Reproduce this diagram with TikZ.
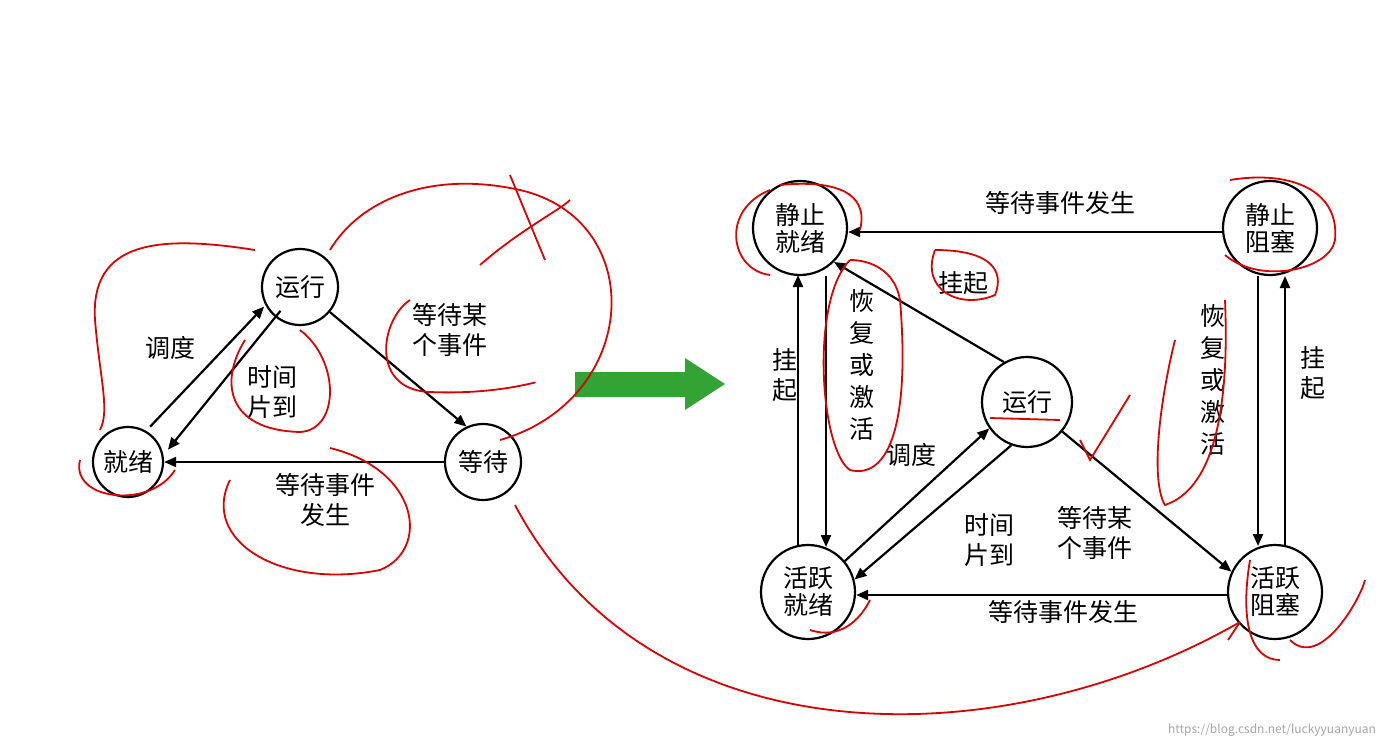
\documentclass[tikz,border=0pt]{standalone}
\usepackage{fontspec}
\setmainfont[BoldFont={Noto Sans CJK SC Bold}]{Noto Sans CJK SC}
\usetikzlibrary{arrows.meta}
\begin{document}
\begin{tikzpicture}[x=1pt,y=-1pt,
  st/.style={circle,draw,line width=2.2pt,minimum size=#1pt,inner sep=0pt,font=\fontsize{25}{27}\selectfont,align=center},
  st/.default=76,
  ar/.style={line width=2.2pt,-{Triangle[length=12pt,width=10pt]}},
  lb/.style={font=\fontsize{25}{30}\selectfont,align=center,inner sep=0pt},
  red/.style={draw=red!85!black,line width=1.8pt}]
\useasboundingbox (0,0) rectangle (1394,746);
\fill[white] (0,0) rectangle (1394,746);
% left
\node[st] (r) at (300,287) {运行};
\node[st=70] (j) at (128,462) {就绪};
\node[st] (d) at (483,462) {等待};
\draw[ar] ([xshift=4pt,yshift=4pt]j.60) -- ([xshift=-2pt]r.210);
\draw[ar] ([yshift=10pt]r.240) -- ([xshift=6pt]j.20);
\draw[ar] (r.-40) -- (d.115);
\draw[ar] (d.180) -- (j.0);
\node[lb] (l1) at (170,348) {调度};
\node[lb] (l2) at (272,392) {时间\\片到};
\node[lb] (l3) at (450,330) {等待某\\个事件};
\node[lb] (l4) at (325,500) {等待事件\\发生};
% green arrow
\fill[green!55!black!80!white] (575,372) -- (685,372) -- (685,358) -- (725,384) -- (685,410) -- (685,397) -- (575,397) -- cycle;
% right
\node[st=94] (sj) at (800,228) {静止\\就绪};
\node[st=94] (sz) at (1270,228) {静止\\阻塞};
\node[st=90] (rr) at (1027,402) {运行};
\node[st=94] (hj) at (808,592) {活跃\\就绪};
\node[st=94] (hz) at (1275,592) {活跃\\阻塞};
\draw[ar] (sz.west|-0,232) -- (sj.east|-0,232);
\draw[ar] (rr.120) -- (sj.-45);
\draw[ar] (798,545) -- (798,275);
\draw[ar] (826,276) -- (826,547);
\draw[ar] (1258,276) -- (1258,546);
\draw[ar] (1285,546) -- (1285,276);
\draw[ar] (hj.40) -- (rr.215);
\draw[ar] (rr.250) -- (hj.15);
\draw[ar] (rr.-40) -- (hz.155);
\draw[ar] (hz.west|-0,595) -- (hj.east|-0,595);
\node[lb] at (1060,203) {等待事件发生};
\node[lb] at (963,283) {挂起};
\node[lb] at (785,375) {挂\\起};
\node[lb,font=\fontsize{25}{32}\selectfont] at (862,365) {恢\\复\\或\\激\\活};
\node[lb,font=\fontsize{25}{32}\selectfont] at (1213,380) {恢\\复\\或\\激\\活};
\node[lb] at (1313,373) {挂\\起};
\node[lb] at (911,455) {调度};
\node[lb] at (989,540) {时间\\片到};
\node[lb] at (1095,533) {等待某\\个事件};
\node[lb] at (1063,612) {等待事件发生};
\node[font=\fontsize{12}{13}\selectfont,text=gray!70] at (1272,730) {https://blog.csdn.net/luckyyuanyuan};
% red annotations
\draw[red] (515,505) .. controls (650,760) and (1000,760) .. (1240,622);
\draw[red] (1240,622) -- (1228,640);
\draw[red] (500,440) .. controls (640,400) and (650,220) .. (520,190) .. controls (430,170) and (360,200) .. (330,250);
\draw[red] (410,300) .. controls (380,320) and (370,390) .. (430,392) .. controls (500,395) and (540,380) .. (535,383);
\draw[red] (230,480) .. controls (200,540) and (280,590) .. (380,570) .. controls (430,550) and (420,470) .. (330,448);
\draw[red] (245,340) .. controls (220,380) and (225,430) .. (300,432) .. controls (340,430) and (340,360) .. (300,330);
\draw[red] (255,250) .. controls (160,235) and (90,240) .. (95,320) .. controls (100,380) and (110,410) .. (100,430);
\draw[red] (80,460) .. controls (70,500) and (150,510) .. (175,470);
\draw[red] (510,175) -- (545,260); \draw[red] (480,265) .. controls (520,230) and (560,210) .. (570,200);
\draw[red] (770,190) .. controls (720,210) and (730,270) .. (770,275);
\draw[red] (780,185) .. controls (830,180) and (870,190) .. (860,230);
\draw[red] (850,260) .. controls (810,300) and (820,450) .. (850,470) .. controls (890,480) and (910,420) .. (900,300) .. controls (895,270) and (870,260) .. (850,260);
\draw[red] (935,250) .. controls (920,290) and (960,310) .. (995,295) .. controls (1005,270) and (990,250) .. (935,250);
\draw[red] (1230,180) .. controls (1290,170) and (1340,190) .. (1335,240) .. controls (1330,270) and (1260,285) .. (1225,255);
\draw[red] (1175,340) .. controls (1160,400) and (1150,480) .. (1165,505) .. controls (1210,490) and (1230,420) .. (1225,300);
\draw[red] (1080,440) -- (1090,460) -- (1130,395);
\draw[red] (1290,640) .. controls (1320,670) and (1360,600) .. (1365,580);
\draw[red] (1250,560) .. controls (1240,620) and (1250,660) .. (1280,660);
\draw[red] (990,418) -- (1060,420);
\draw[red] (810,630) .. controls (840,640) and (860,620) .. (870,600);
\end{tikzpicture}
\end{document}
